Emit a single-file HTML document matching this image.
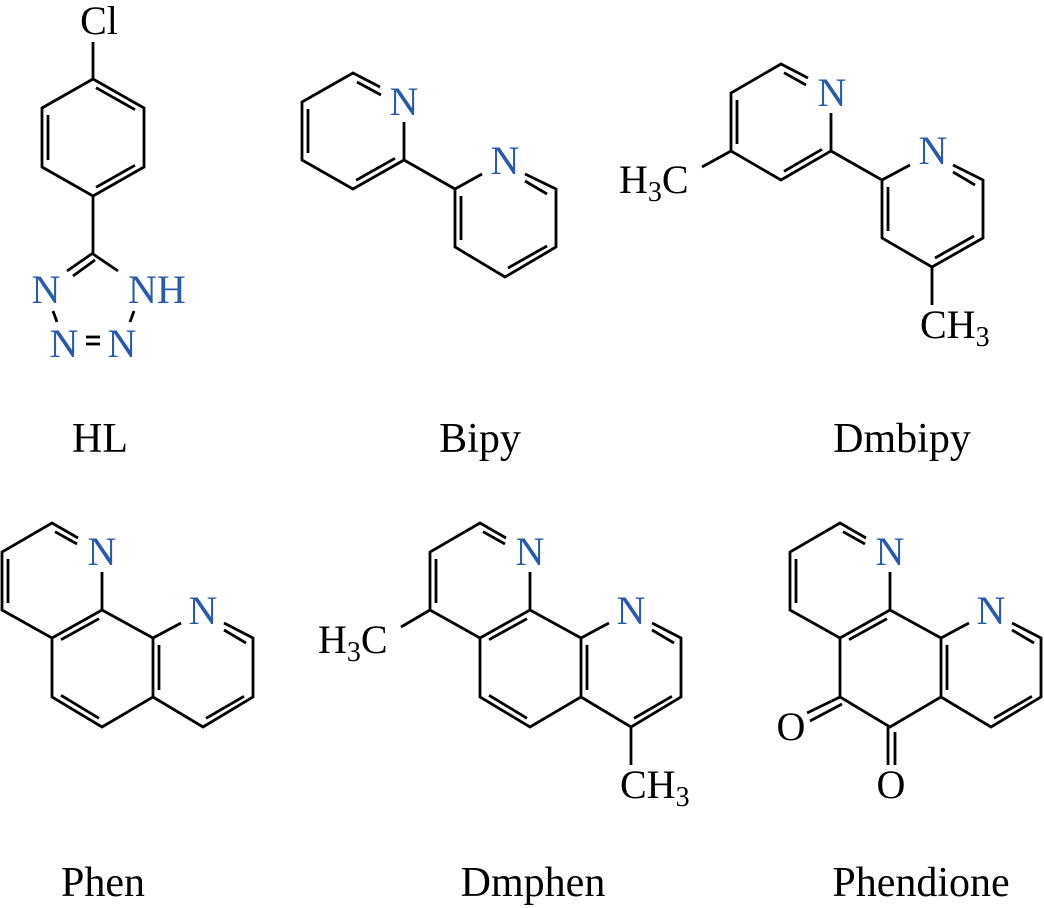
<!DOCTYPE html>
<html><head><meta charset="utf-8"><style>
html,body{margin:0;padding:0;background:#fff}
svg{display:block}
text{font-family:"Liberation Serif",serif}
.b{fill:#2a5aa8}
</style></head><body>
<svg width="1044" height="908" viewBox="0 0 1044 908" xmlns="http://www.w3.org/2000/svg">
<g stroke="#000" stroke-width="2.8" fill="none" stroke-linecap="butt">
<!-- HL -->
<line x1="93" y1="42" x2="93" y2="79"/>
<polygon points="93,79 42,108 42,167 93,196 144,167 144,108"/>
<line x1="96" y1="87.7" x2="135" y2="109.7"/>
<line x1="48" y1="115" x2="48" y2="160"/>
<line x1="96" y1="187.3" x2="135" y2="165.3"/>
<line x1="93" y1="196" x2="93" y2="254"/>
<line x1="93" y1="253" x2="67" y2="271"/>
<line x1="95" y1="260" x2="73" y2="276"/>
<line x1="93" y1="254" x2="118" y2="271"/>
<line x1="53" y1="311" x2="57" y2="322"/>
<line x1="134" y1="311" x2="130" y2="322"/>
<line x1="86" y1="337" x2="100" y2="337"/>
<line x1="86" y1="344" x2="100" y2="344"/>
<!-- Bipy -->
<polyline points="380,87 353,73 302,102 302,160 353,189 404,160 404,122"/>
<line x1="357" y1="82" x2="381" y2="95"/>
<line x1="308" y1="109" x2="308" y2="153"/>
<line x1="356" y1="180.3" x2="395" y2="158.3"/>
<line x1="404" y1="160" x2="455" y2="189"/>
<polyline points="482,174 455,189 455,247 505,277 556,247 556,189 525,174"/>
<line x1="525" y1="181" x2="547" y2="194"/>
<line x1="461" y1="196" x2="461" y2="240"/>
<line x1="508" y1="268" x2="547" y2="246"/>
<!-- Dmbipy -->
<polyline points="808,78 781,64 731,93 731,151 781,180 831,151 831,113"/>
<line x1="784" y1="72.7" x2="806" y2="85"/>
<line x1="737" y1="100" x2="737" y2="144"/>
<line x1="784" y1="171.3" x2="822" y2="149.3"/>
<line x1="731" y1="151" x2="702" y2="167"/>
<line x1="831" y1="151" x2="882" y2="180"/>
<polyline points="910,165 882,180 882,238 932,267 983,238 983,180 953,165"/>
<line x1="953" y1="172" x2="975" y2="185"/>
<line x1="888" y1="187" x2="888" y2="231"/>
<line x1="935" y1="258" x2="974" y2="236"/>
<line x1="932" y1="267" x2="932" y2="305"/>
<!-- Phen (template) -->
<g id="phen">
<polyline points="78,538 52,523 2,552 2,610 52,638 102,610 102,572"/>
<line x1="55" y1="531.7" x2="77" y2="544"/>
<line x1="8" y1="559" x2="8" y2="603"/>
<line x1="61" y1="639.7" x2="99" y2="618.7"/>
<polyline points="52,638 52,697 102,727 153,697 153,638 102,610"/>
<line x1="153" y1="638" x2="181" y2="623"/>
<polyline points="224,623 253,638 253,697 203,727 153,697"/>
<line x1="224" y1="630" x2="246" y2="643"/>
<line x1="159" y1="645" x2="159" y2="690"/>
<line x1="206" y1="718.3" x2="244" y2="696.3"/>
</g>
<line x1="61" y1="695.3" x2="99" y2="718.3"/>
<!-- Dmphen -->
<g transform="translate(428,0)">
<polyline points="78,538 52,523 2,552 2,610 52,638 102,610 102,572"/>
<line x1="55" y1="531.7" x2="77" y2="544"/>
<line x1="8" y1="559" x2="8" y2="603"/>
<line x1="61" y1="639.7" x2="99" y2="618.7"/>
<polyline points="52,638 52,697 102,727 153,697 153,638 102,610"/>
<line x1="153" y1="638" x2="181" y2="623"/>
<polyline points="224,623 253,638 253,697 203,727 153,697"/>
<line x1="224" y1="630" x2="246" y2="643"/>
<line x1="159" y1="645" x2="159" y2="690"/>
<line x1="206" y1="718.3" x2="244" y2="696.3"/>
<line x1="61" y1="695.3" x2="99" y2="718.3"/>
<line x1="2" y1="610" x2="-27" y2="627"/>
<line x1="203" y1="727" x2="203" y2="765"/>
</g>
<!-- Phendione -->
<g transform="translate(788,0)">
<polyline points="78,538 52,523 2,552 2,610 52,638 102,610 102,572"/>
<line x1="55" y1="531.7" x2="77" y2="544"/>
<line x1="8" y1="559" x2="8" y2="603"/>
<line x1="61" y1="639.7" x2="99" y2="618.7"/>
<polyline points="52,638 52,697 102,727 153,697 153,638 102,610"/>
<line x1="153" y1="638" x2="181" y2="623"/>
<polyline points="224,623 253,638 253,697 203,727 153,697"/>
<line x1="224" y1="630" x2="246" y2="643"/>
<line x1="159" y1="645" x2="159" y2="690"/>
<line x1="206" y1="718.3" x2="244" y2="696.3"/>
<line x1="52" y1="697" x2="19" y2="713"/>
<line x1="54" y1="704" x2="22" y2="721"/>
<line x1="100" y1="727" x2="100" y2="765"/>
<line x1="107" y1="732" x2="107" y2="765"/>
</g>
</g>
<g font-size="40">
<text x="99" y="34" text-anchor="middle">Cl</text>
<text class="b" x="46" y="303" text-anchor="middle">N</text>
<text class="b" x="128" y="303">NH</text>
<text class="b" x="64" y="357" text-anchor="middle">N</text>
<text class="b" x="122" y="357" text-anchor="middle">N</text>
<text class="b" x="404" y="115" text-anchor="middle">N</text>
<text class="b" x="505" y="174" text-anchor="middle">N</text>
<text class="b" x="832" y="106" text-anchor="middle">N</text>
<text class="b" x="933" y="164" text-anchor="middle">N</text>
<text x="619" y="193">H<tspan font-size="28" dy="8">3</tspan><tspan dy="-8">C</tspan></text>
<text x="920" y="338">CH<tspan font-size="28" dy="8">3</tspan></text>
<text class="b" x="102" y="565" text-anchor="middle">N</text>
<text class="b" x="203" y="624" text-anchor="middle">N</text>
<text class="b" x="530" y="565" text-anchor="middle">N</text>
<text class="b" x="631" y="624" text-anchor="middle">N</text>
<text x="318" y="653">H<tspan font-size="28" dy="8">3</tspan><tspan dy="-8">C</tspan></text>
<text x="620" y="798">CH<tspan font-size="28" dy="8">3</tspan></text>
<text class="b" x="890" y="565" text-anchor="middle">N</text>
<text class="b" x="991" y="624" text-anchor="middle">N</text>
<text x="791" y="740" text-anchor="middle">O</text>
<text x="891" y="798" text-anchor="middle">O</text>
</g>
<g font-size="42" text-anchor="middle">
<text x="100" y="452">HL</text>
<text x="480" y="452">Bipy</text>
<text x="902" y="452">Dmbipy</text>
<text x="103" y="896">Phen</text>
<text x="533" y="896">Dmphen</text>
<text x="921" y="896">Phendione</text>
</g>
</svg>
</body></html>
